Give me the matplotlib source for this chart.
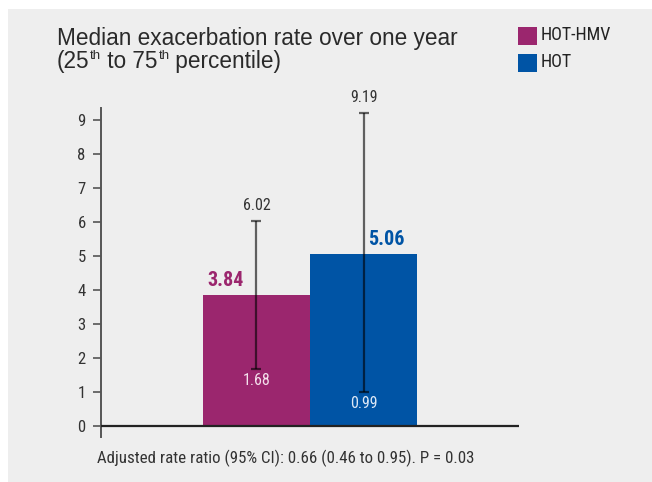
import matplotlib
matplotlib.use("Agg")
import matplotlib.pyplot as plt
from matplotlib.patches import Rectangle

# data
groups = ["HOT-HMV", "HOT"]
medians = [3.84, 5.06]
q25 = [1.68, 0.99]
q75 = [6.02, 9.19]
colors = ["#9b266e", "#0054a5"]
yticks = [0, 1, 2, 3, 4, 5, 6, 7, 8, 9]
footer = "Adjusted rate ratio (95% CI): 0.66 (0.46 to 0.95). P = 0.03"

narrow = ["Roboto Condensed", "Liberation Sans Narrow", "Liberation Sans", "DejaVu Sans"]

fig = plt.figure(figsize=(6.52, 4.82), dpi=100)
fig.patch.set_facecolor("white")
fig.add_artist(Rectangle((8 / 652, 0), 1, 1 - 9 / 482, transform=fig.transFigure,
                         facecolor="#eeeeee", edgecolor="none", zorder=0))

ax = fig.add_axes([101 / 652, 1 - 437 / 482, 418 / 652, 329 / 482])
ax.set_facecolor("none")

x = [0, 1]
ax.bar(x, medians, width=1.0, color=colors, zorder=2)

# whiskers
for i in range(len(x)):
    ax.errorbar(x[i], medians[i], yerr=[[medians[i] - q25[i]], [q75[i] - medians[i]]],
                fmt="none", ecolor="black", alpha=0.6, elinewidth=1.6,
                capsize=3.5, capthick=1.6, zorder=3)
    ax.text(x[i], q75[i] + 0.25, f"{q75[i]:.2f}", ha="center", va="bottom",
            fontsize=11.5, color="#333333", family=narrow)
    ax.text(x[i], q25[i] - 0.33, f"{q25[i]:.2f}", ha="center", va="center",
            fontsize=11.5, color="#f4e0ec" if i == 0 else "#dde8f6", family=narrow)

ax.text(x[0] - 0.46, medians[0] + 0.15, f"{medians[0]:.2f}", ha="left", va="bottom",
        fontsize=14.5, fontweight="bold", color=colors[0], family=narrow)
ax.text(x[1] + 0.04, medians[1] + 0.15, f"{medians[1]:.2f}", ha="left", va="bottom",
        fontsize=14.5, fontweight="bold", color=colors[1], family=narrow)

ax.set_xlim(-1.453, 2.453)
ax.set_ylim(-0.32, 9.35)
ax.axhline(0, color="#222222", lw=1.6, zorder=4)
for s in ["top", "right", "bottom"]:
    ax.spines[s].set_visible(False)
ax.spines["left"].set_color("#555555")
ax.spines["left"].set_linewidth(1.4)
ax.set_xticks([])
ax.set_yticks(yticks)
ax.set_yticklabels([str(t) for t in yticks], family=narrow, fontsize=12, color="#333333")
ax.tick_params(axis="y", direction="out", length=6, width=1.2, color="#555555", pad=5)

# title
tkw = dict(fontsize=16.3, color="#2a2a2a", family="Liberation Sans", va="baseline")
fig.text(57 / 652, 1 - 45 / 482, "Median exacerbation rate over one year", **tkw)
pieces = [("(25", False), ("th", True), (" to 75", False), ("th", True), (" percentile)", False)]
prev = fig.text(57 / 652, 1 - 68 / 482, pieces[0][0], **tkw)
for txt, sup in pieces[1:]:
    if sup:
        prev = ax.annotate(txt, xy=(1, 0), xycoords=prev, xytext=(0.4, 7.6),
                           textcoords="offset points", fontsize=9.5, color="#2a2a2a",
                           family="Liberation Sans", va="bottom", ha="left",
                           annotation_clip=False)
    else:
        prev = ax.annotate(txt, xy=(1, 0), xycoords=prev, xytext=(0, -7.6),
                           textcoords="offset points", ha="left",
                           annotation_clip=False, **{**tkw, "va": "bottom"})

# legend
for i, g in enumerate(groups):
    y0 = 1 - (45 + 27 * i) / 482
    fig.add_artist(Rectangle((518 / 652, y0), 19 / 652, 18 / 482,
                             transform=fig.transFigure, facecolor=colors[i], edgecolor="none"))
    fig.text(541 / 652, y0 + 1 / 482, g, fontsize=13, color="#222222",
             family=narrow, va="bottom")

fig.text(97 / 652, 1 - 463 / 482, footer, fontsize=12.2, color="#333333",
         family=narrow, va="baseline")

fig.savefig("out.png", dpi=100, facecolor=fig.get_facecolor())
